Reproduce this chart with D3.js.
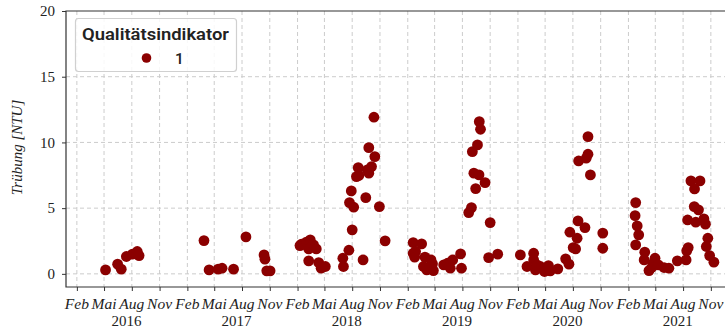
<!DOCTYPE html>
<html>
<head>
<meta charset="utf-8">
<script src="https://cdn.jsdelivr.net/npm/d3@7/dist/d3.min.js"></script>
<style>
  html, body { margin: 0; padding: 0; background: #ffffff; }
  svg { display: block; }
</style>
</head>
<body>
<svg id="chart" width="725" height="328"></svg>
<script>
// Messdaten: Trübung in NTU, Qualitätsindikator 1
const sampleDates = [
  "2016-05-06","2016-06-15","2016-06-27","2016-07-14","2016-08-03","2016-08-19","2016-08-25",
  "2017-03-28","2017-04-14","2017-05-14","2017-05-27","2017-07-04","2017-08-14","2017-10-13","2017-10-16","2017-10-22","2017-11-02",
  "2018-02-09","2018-02-14","2018-02-22","2018-03-02","2018-03-15","2018-03-10","2018-03-26","2018-04-04","2018-03-10","2018-04-12","2018-04-20","2018-05-04",
  "2018-07-01","2018-07-03","2018-07-21","2018-08-01","2018-07-23","2018-08-06","2018-07-29","2018-08-15","2018-08-23","2018-08-21",
  "2018-09-06","2018-09-15","2018-09-20","2018-09-25","2018-10-04","2018-09-25","2018-10-15","2018-10-12","2018-10-30","2018-11-18",
  "2019-02-19","2019-03-19","2019-02-19","2019-02-27","2019-02-24","2019-03-30","2019-03-25","2019-04-05","2019-04-19","2019-04-24","2019-04-16","2019-04-27",
  "2019-05-31","2019-06-13","2019-06-22","2019-06-30","2019-07-26","2019-07-29",
  "2019-08-22","2019-08-31","2019-09-08","2019-09-25","2019-09-14","2019-09-03","2019-09-20","2019-09-26","2019-09-30","2019-10-15","2019-11-01","2019-10-27","2019-11-26",
  "2020-02-09","2020-03-02","2020-03-24","2020-03-24","2020-03-30","2020-04-15","2020-04-04","2020-04-29","2020-05-12","2020-05-18","2020-06-12",
  "2020-07-08","2020-07-19","2020-07-22","2020-08-02","2020-08-10","2020-08-15","2020-08-18","2020-09-10","2020-08-20","2020-09-14","2020-09-20","2020-09-20","2020-09-28","2020-11-08","2020-11-08",
  "2021-02-25","2021-02-23","2021-03-02","2021-03-07","2021-02-25","2021-03-27","2021-03-25","2021-04-30","2021-04-24","2021-04-19","2021-04-10","2021-05-11","2021-05-30","2021-06-15",
  "2021-07-13","2021-08-11","2021-08-13","2021-08-18","2021-08-16","2021-09-12","2021-09-07","2021-09-21","2021-08-27","2021-09-26","2021-09-08","2021-10-09","2021-10-14","2021-10-22","2021-10-17","2021-10-28","2021-11-11"
];
const turbidity = [
  0.30,0.74,0.36,1.32,1.50,1.70,1.39,
  2.53,0.30,0.36,0.43,0.36,2.81,1.44,1.12,0.23,0.23,
  2.15,2.26,2.26,2.41,2.59,1.90,2.20,1.90,0.99,0.86,0.43,0.56,
  1.19,0.56,1.80,3.35,5.42,5.07,6.31,7.40,7.48,8.08,
  1.06,5.80,7.91,7.66,8.16,9.60,8.92,11.92,5.12,2.51,
  2.38,2.28,1.57,1.70,1.27,1.27,0.56,0.30,1.06,0.76,0.51,0.25,
  0.68,0.81,0.43,1.06,1.52,0.43,
  4.66,5.04,7.66,7.53,6.49,9.30,9.81,11.58,11.00,6.94,3.90,1.24,1.50,
  1.44,0.56,1.57,1.06,0.30,0.56,0.68,0.18,0.63,0.23,0.38,
  1.14,0.74,3.17,2.00,1.90,2.71,4.03,3.52,8.59,8.80,9.10,10.44,7.53,3.10,1.95,
  5.42,4.43,3.65,2.97,2.20,1.65,1.06,1.19,0.81,0.48,0.25,0.68,0.48,0.43,
  0.99,1.06,1.75,2.00,4.10,3.93,5.12,4.87,7.07,7.07,6.46,4.18,3.78,2.71,2.08,1.39,0.89
];

const years = [2016, 2017, 2018, 2019, 2020, 2021];
const monthNames = ["Feb", "Mai", "Aug", "Nov"];
const monthIndex = [1, 4, 7, 10];
const yTicks = [0, 5, 10, 15, 20];
const legendTitle = "Qualitätsindikator";
const legendEntry = "1";
const yLabel = "Trübung [NTU]";

const parse = d3.timeParse("%Y-%m-%d");
const points = sampleDates.map((d, i) => ({ date: parse(d), value: turbidity[i] }));

const svg = d3.select("#chart");
const plotLeft = 66, plotTop = 11, plotBottom = 287;
const xStart = new Date(2015, 11, 27), xEnd = new Date(2022, 0, 20);
const pxPerDay = 0.3019;
const plotRight = plotLeft + (xEnd - xStart) / 864e5 * pxPerDay;

const x = d3.scaleTime().domain([xStart, xEnd]).range([plotLeft, plotRight]);
const y = d3.scaleLinear().domain([-1, 20]).range([plotBottom, plotTop]);

const serif = "'Liberation Serif', 'DejaVu Serif', serif";
const sans = "Roboto, 'Noto Sans', sans-serif";
const tickDates = [];
years.forEach(yr => monthIndex.forEach((m, j) => tickDates.push({ date: new Date(yr, m, 1), label: monthNames[j] })));

// Gitterlinien
const grid = svg.append("g").attr("stroke", "#cccccc").attr("stroke-width", 1).attr("stroke-dasharray", "4,3");
tickDates.forEach(t => {
  grid.append("line").attr("x1", x(t.date)).attr("x2", x(t.date)).attr("y1", plotTop).attr("y2", plotBottom);
});
yTicks.filter(v => v < 20).forEach(v => {
  grid.append("line").attr("x1", plotLeft).attr("x2", plotRight).attr("y1", y(v)).attr("y2", y(v));
});

// Achsen
const yAxis = d3.axisLeft(y).tickValues(yTicks).tickSize(4).tickPadding(7);
const gy = svg.append("g").attr("transform", `translate(${plotLeft},0)`).call(yAxis);
gy.attr("font-family", serif).attr("font-size", 15);
gy.select(".domain").remove();
gy.selectAll("line").attr("stroke", "#333");
gy.selectAll("text").attr("fill", "#222");

const xAxis = d3.axisBottom(x).tickValues(tickDates.map(t => t.date)).tickSize(4).tickFormat(() => "");
const gx = svg.append("g").attr("transform", `translate(0,${plotBottom})`).call(xAxis);
gx.select(".domain").remove();
gx.selectAll("line").attr("stroke", "#333");

// Monatsbeschriftungen und Jahre
svg.append("g").selectAll("text").data(tickDates).join("text")
  .attr("x", d => x(d.date)).attr("y", 309)
  .attr("text-anchor", "middle")
  .attr("font-family", serif).attr("font-style", "italic").attr("font-size", 15.5).attr("fill", "#222")
  .text(d => d.label);
svg.append("g").selectAll("text").data(years).join("text")
  .attr("x", d => x(new Date(d, 6, 14))).attr("y", 325.5)
  .attr("text-anchor", "middle")
  .attr("font-family", serif).attr("font-size", 15).attr("fill", "#222")
  .text(d => d);

// Rahmen
svg.append("path")
  .attr("d", `M${plotRight},${plotTop}H${plotLeft}V${plotBottom}H${plotRight}`)
  .attr("fill", "none").attr("stroke", "#333").attr("stroke-width", 1.2);

// Y-Achsentitel
svg.append("text")
  .attr("transform", `translate(22,${(y(0) + y(20)) / 2 + 5}) rotate(-90)`)
  .attr("text-anchor", "middle")
  .attr("font-family", serif).attr("font-style", "italic").attr("font-size", 15).attr("fill", "#222")
  .text(yLabel);

// Messpunkte
svg.append("g").selectAll("circle").data(points).join("circle")
  .attr("cx", d => x(d.date)).attr("cy", d => y(d.value))
  .attr("r", 5.4).attr("fill", "#8b0000");

// Legende
const lg = svg.append("g");
lg.append("rect").attr("x", 75.5).attr("y", 18.5).attr("width", 161).attr("height", 53).attr("rx", 3)
  .attr("fill", "#ffffff").attr("fill-opacity", 0.85).attr("stroke", "#d0d0d0").attr("stroke-width", 1.2);
lg.append("text").attr("x", 82).attr("y", 40)
  .attr("font-family", sans).attr("font-weight", 600).attr("font-size", 16.5).attr("fill", "#222")
  .attr("textLength", 147).attr("lengthAdjust", "spacingAndGlyphs")
  .text(legendTitle);
lg.append("circle").attr("cx", 146.5).attr("cy", 58).attr("r", 4.8).attr("fill", "#8b0000");
lg.append("text").attr("x", 175).attr("y", 63.5)
  .attr("font-family", sans).attr("font-weight", 500).attr("font-size", 15.5).attr("fill", "#222")
  .text(legendEntry);
</script>
</body>
</html>
